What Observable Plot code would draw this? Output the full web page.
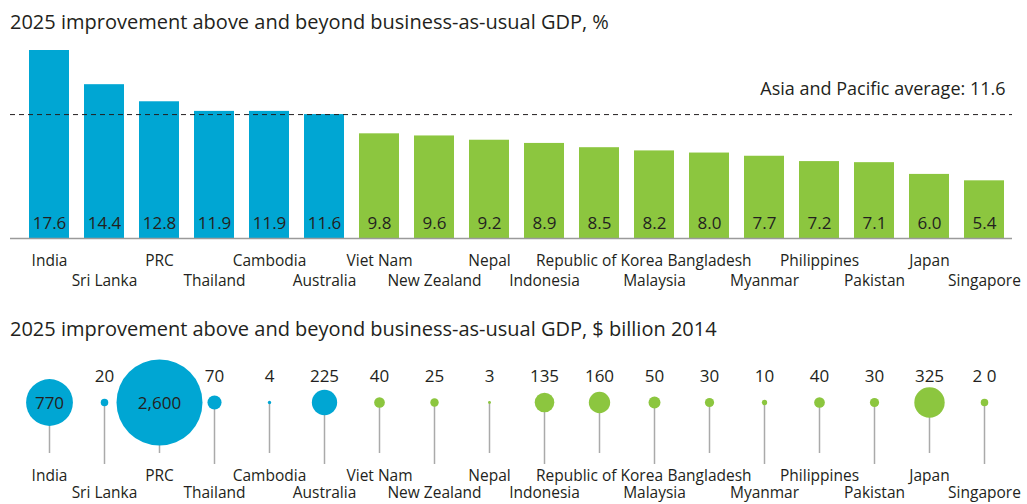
<!DOCTYPE html>
<html>
<head>
<meta charset="utf-8">
<script src="https://cdn.jsdelivr.net/npm/d3@7"></script>
<script src="https://cdn.jsdelivr.net/npm/@observablehq/plot@0.6"></script>
<style>
  body { margin: 0; background: #fff; font-family: "Open Sans", sans-serif; color: #231f20; }
  .title { position: absolute; left: 10px; font-size: 20px; line-height: 27px; white-space: nowrap; }
  .chart { position: absolute; left: 0; line-height: 0; }
</style>
</head>
<body>
<div class="title" style="top:8px">2025 improvement above and beyond business-as-usual GDP, %</div>
<div class="chart" id="c1" style="top:36px"></div>
<div class="title" style="top:315px">2025 improvement above and beyond business-as-usual GDP, $ billion 2014</div>
<div class="chart" id="c2" style="top:345px"></div>
<script>
const countries = ["India","Sri Lanka","PRC","Thailand","Cambodia","Australia","Viet Nam","New Zealand","Nepal","Indonesia","Republic of Korea","Malaysia","Bangladesh","Myanmar","Philippines","Pakistan","Japan","Singapore"];
const pct = [17.6,14.4,12.8,11.9,11.9,11.6,9.8,9.6,9.2,8.9,8.5,8.2,8.0,7.7,7.2,7.1,6.0,5.4];
const gdp = [770,20,2600,70,4,225,40,25,3,135,160,50,30,10,40,30,325,20];
const gdpLabels = ["770","20","2,600","70","4","225","40","25","3","135","160","50","30","10","40","30","325","2 0"];
const average = 11.6;
const groups = ["above","below"];
const groupColors = ["#00a6d3","#8cc63f"];

const data = countries.map((c, i) => ({
  country: c, pct: pct[i], gdp: gdp[i], gdpLabel: gdpLabels[i],
  row: i % 2, group: pct[i] >= average ? "above" : "below"
}));
const row0 = data.filter(d => d.row === 0);
const row1 = data.filter(d => d.row === 1);

const xScale = {type: "band", domain: countries, range: [11.8, 1020.6], padding: 0.275, axis: null};
const colorScale = {domain: groups, range: groupColors};
const chartStyle = {fontFamily: "Open Sans", color: "#231f20", background: "transparent", fontSize: "16px", overflow: "visible"};
const ink = "#231f20";
const labelSize = 15.5;

const topChart = Plot.plot({
  width: 1027, height: 264,
  marginLeft: 10, marginRight: 15, marginTop: 14, marginBottom: 62,
  x: xScale,
  y: {domain: [0, 17.6], axis: null},
  color: colorScale,
  style: chartStyle,
  marks: [
    Plot.barY(data, {x: "country", y: "pct", fill: "group"}),
    Plot.ruleY([0], {stroke: "#9a9a9a", strokeWidth: 1.5}),
    Plot.ruleY([average], {stroke: ink, strokeDasharray: "5,4", strokeWidth: 1}),
    Plot.text([average], {y: d => d, text: d => `Asia and Pacific average: ${d}`, frameAnchor: "right", textAnchor: "end", lineAnchor: "middle", dx: -7, dy: -25, fontSize: 18, fill: ink}),
    Plot.text(data, {x: "country", text: d => d.pct.toFixed(1), frameAnchor: "bottom", lineAnchor: "middle", dy: -15, fontSize: 17, fill: ink}),
    Plot.text(row0, {x: "country", text: "country", frameAnchor: "bottom", lineAnchor: "middle", dy: 23, fontSize: labelSize, fill: ink}),
    Plot.text(row1, {x: "country", text: "country", frameAnchor: "bottom", lineAnchor: "middle", dy: 43, fontSize: labelSize, fill: ink})
  ]
});
document.getElementById("c1").appendChild(topChart);

const bottomChart = Plot.plot({
  width: 1027, height: 159,
  marginLeft: 10, marginRight: 15, marginTop: 0, marginBottom: 0,
  x: xScale,
  r: {type: "sqrt", domain: [0, 2600], range: [0, 43]},
  color: colorScale,
  style: chartStyle,
  marks: [
    Plot.ruleX(row0, {x: "country", insetTop: 57, insetBottom: 51, stroke: "#aaaaaa", strokeWidth: 1.5}),
    Plot.ruleX(row1, {x: "country", insetTop: 57, insetBottom: 40, stroke: "#aaaaaa", strokeWidth: 1.5}),
    Plot.dot(data, {x: "country", r: "gdp", fill: "group", frameAnchor: "top", dy: 57}),
    Plot.text(data.filter(d => d.gdp > 500), {x: "country", text: "gdpLabel", frameAnchor: "top", lineAnchor: "middle", dy: 58, fontSize: 17, fill: ink}),
    Plot.text(data.filter(d => d.gdp <= 500), {x: "country", text: "gdpLabel", frameAnchor: "top", lineAnchor: "middle", dy: 31, fontSize: 17, fill: ink}),
    Plot.text(row0, {x: "country", text: "country", frameAnchor: "top", lineAnchor: "middle", dy: 131, fontSize: labelSize, fill: ink}),
    Plot.text(row1, {x: "country", text: "country", frameAnchor: "top", lineAnchor: "middle", dy: 147.5, fontSize: labelSize, fill: ink})
  ]
});
document.getElementById("c2").appendChild(bottomChart);
</script>
</body>
</html>
